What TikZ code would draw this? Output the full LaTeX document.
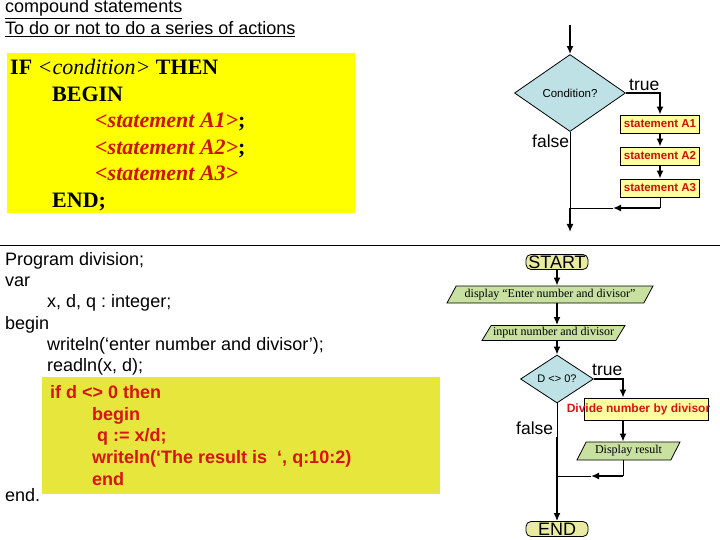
\documentclass[tikz,border=0pt]{standalone}
\usepackage{fontspec}
\setmainfont{Liberation Serif}
\newfontfamily\arialfont{Liberation Sans}
\usetikzlibrary{positioning, shapes.geometric, arrows.meta}
\usepackage{xcolor}
\frenchspacing

\definecolor{boxyellow}{RGB}{255,255,0}
\definecolor{codeyellow}{RGB}{230,230,60}
\definecolor{stmtfill}{RGB}{255,255,160}
\definecolor{decfill}{RGB}{190,225,230}
\definecolor{iofill}{RGB}{200,225,160}
\definecolor{termfill}{RGB}{232,235,160}
\definecolor{stmtred}{RGB}{204,20,0}
\definecolor{codered}{RGB}{215,20,20}

\begin{document}
\begin{tikzpicture}[
        x=1pt, y=-1pt,
        sans/.style={
            font=\arialfont\fontsize{18}{21}\selectfont,
            inner sep=0pt, anchor=base west
        },
        redcode/.style={
            font=\arialfont\bfseries\fontsize{18}{21}\selectfont,
            text=codered, inner sep=0pt, anchor=base west
        },
        pascal/.style={
            font=\bfseries\fontsize{22}{26}\selectfont,
            inner sep=0pt, anchor=base west
        },
        stmt/.style={
            rectangle, draw=black, line width=0.8pt, fill=stmtfill,
            minimum width=79, minimum height=18, inner sep=0pt,
            font=\arialfont\bfseries\fontsize{11.5}{12}\selectfont, text=stmtred
        },
        dec/.style={
            diamond, draw=black, line width=0.8pt, fill=decfill, inner sep=0pt,
            font=\arialfont\fontsize{11.5}{12}\selectfont
        },
        io/.style={
            trapezium, trapezium left angle=50, trapezium right angle=130,
            trapezium stretches body, draw=black, line width=0.8pt, fill=iofill,
            inner sep=0pt, minimum height=17, font=\fontsize{12}{13}\selectfont
        },
        term/.style={
            rectangle, rounded corners=5, draw=black, line width=0.8pt,
            fill=termfill, inner sep=0pt, minimum width=62, minimum height=15,
            font=\arialfont\fontsize{18}{18}\selectfont
        },
        tf/.style={
            font=\arialfont\fontsize{17.5}{18}\selectfont,
            inner sep=0pt, anchor=base west
        },
        flow/.style={draw, line width=2.2pt, -{Latex[length=8pt, width=7pt]}},
        thinline/.style={draw, line width=0.8pt}
    ]

    \useasboundingbox (0,0) rectangle (720,540);

    % Titles
    \node[sans] (title) at (5,13) {\underline{compound statements}};
    \node[sans] (subtitle) at (5,35) {\underline{To do or not to do a series of actions}};

    % IF ... THEN block
    \node[fill=boxyellow, minimum width=348, minimum height=160, inner sep=0pt,
          anchor=north west] (ifbox) at (7,53) {};
    \node[pascal] (ifline) at (10,75) {IF \textmd{\itshape <condition>} THEN};
    \node[pascal] (beginline) at (52,101.5) {BEGIN};
    \node[pascal] (stA1) at (95,128) {\textcolor{stmtred}{\itshape <statement A1>};};
    \node[pascal] (stA2) at (95,154.5) {\textcolor{stmtred}{\itshape <statement A2>};};
    \node[pascal] (stA3) at (95,181) {\textcolor{stmtred}{\itshape <statement A3>}};
    \node[pascal] (endline) at (52,207.5) {END;};

    % Flowchart of the compound statement
    \coordinate (topin) at (570,25);
    \node[dec, minimum width=111, minimum height=77] (cond) at (570,93) {Condition?};
    \node[stmt] (sA1) at (660,124) {statement A1};
    \node[stmt] (sA2) at (660,156) {statement A2};
    \node[stmt] (sA3) at (660,188) {statement A3};
    \coordinate (topjoin) at (570,208);
    \coordinate (topmid) at (613,208);
    \coordinate (topout) at (570,232);
    \node[tf] (truetop) at (629,90.5) {true};
    \node[tf] (falsetop) at (532,148) {false};

    \draw[flow] (topin) -- (cond.north);
    \draw[flow] (cond.east) -| (sA1.north);
    \draw[flow] (sA1.south) -- (sA2.north);
    \draw[flow] (sA2.south) -- (sA3.north);
    \draw[thinline] (sA3.south) -- (sA3.south |- topjoin);
    \draw[flow] (sA3.south |- topjoin) -- (topmid);
    \draw[thinline] (topmid) -- (topjoin);
    \draw[thinline] (cond.south) -- (topjoin);
    \draw[flow] (topjoin) -- (topout);

    % Divider
    \draw[thinline] (0,245) -- (720,245);

    % Program listing
    \node[fill=codeyellow, minimum width=398, minimum height=117, inner sep=0pt,
          anchor=north west] (ifcode) at (42,377) {};
    \node[sans] (prog) at (5,265) {Program division;};
    \node[sans] (var) at (5,286.5) {var};
    \node[sans] (decl) at (47,307.5) {x, d, q : integer;};
    \node[sans] (pbegin) at (5,329) {begin};
    \node[sans] (wr) at (47,350) {writeln(‘enter number and divisor’);};
    \node[sans] (rd) at (47,371.5) {readln(x, d);};
    \node[redcode] (cif) at (50,398) {if d <> 0 then};
    \node[redcode] (cbegin) at (92,420) {begin};
    \node[redcode] (cq) at (97,441.5) {q := x/d;};
    \node[redcode] (cwr) at (92,463) {writeln(‘The result is\ \ ‘, q:10:2)};
    \node[redcode] (cend) at (92,485) {end};
    \node[sans] (pend) at (5,501.5) {end.};

    % Flowchart of the program
    \node[term] (start) at (557,262) {START};
    \node[io, minimum width=206] (disp) at (550,294.5) {display “Enter number and divisor”};
    \node[io, minimum width=143, minimum height=15] (inp) at (553.5,333) {input number and divisor};
    \node[dec, minimum width=73, minimum height=48, font=\arialfont\fontsize{11}{12}\selectfont]
        (dz) at (557,379) {D <> 0?};
    \node[stmt, minimum width=124, minimum height=22, font=\arialfont\bfseries\fontsize{12}{13}\selectfont,
          text=codered] (div) at (646,409) {\makebox[0pt][c]{\kern-15pt Divide number by divisor}};
    \node[io, minimum width=103, minimum height=18] (res) at (628.5,451) {Display result};
    \node[term] (stop) at (557,529) {END};
    \coordinate (truex) at (623,379);
    \coordinate (botjoin) at (557,476);
    \coordinate (botmid) at (591,476);
    \coordinate (falsethick) at (557,437);
    \node[tf] (truebot) at (592,375) {true};
    \node[tf] (falsebot) at (516,434) {false};

    \draw[flow] (start.south) -- (disp.north -| start);
    \draw[flow] (disp.south -| start) -- (inp.north -| start);
    \draw[flow] (inp.south -| start) -- (dz.north);
    \draw[flow] (dz.east) -- (truex) -- (truex |- div.north);
    \draw[flow] (truex |- div.south) -- (truex |- res.north);
    \draw[thinline] (truex |- res.south) -- (truex |- botjoin);
    \draw[flow] (truex |- botjoin) -- (botmid);
    \draw[thinline] (botmid) -- (botjoin);
    \draw[thinline] (dz.south) -- (falsethick);
    \draw[flow] (falsethick) -- (stop.north);

\end{tikzpicture}
\end{document}
